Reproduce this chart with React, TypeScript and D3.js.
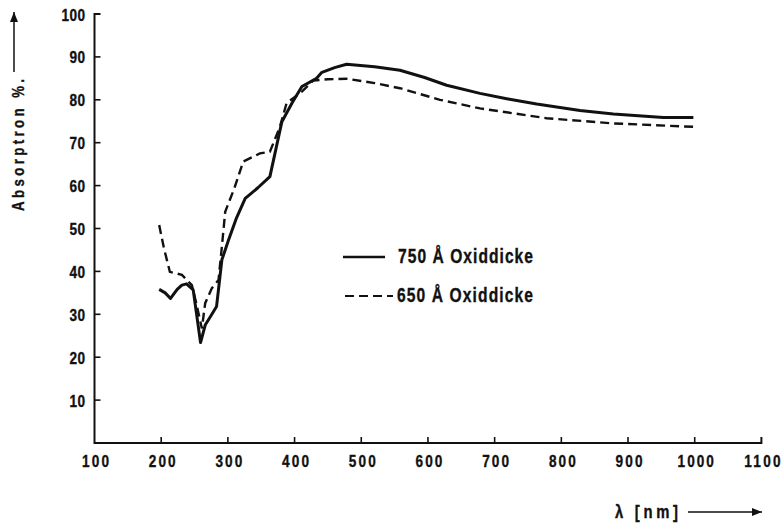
import React from "react";
import * as d3 from "d3";

// Wavelength (nm) and absorption (%) for the two oxide thicknesses
const lambda750 = [197, 206, 214, 224, 231, 238, 248, 259, 266, 276, 283, 291, 301, 313, 326, 345, 363, 372, 381, 396, 411, 433, 441, 460, 478, 520, 558, 595, 628, 678, 720, 763, 828, 878, 953, 998];
const abs750 = [35.8, 35.0, 33.7, 35.8, 36.8, 37.1, 35.7, 23.4, 27.5, 30.0, 31.8, 42.7, 47.3, 52.5, 57.0, 59.5, 62.1, 68.5, 74.9, 79.2, 83.1, 85.0, 86.4, 87.5, 88.3, 87.7, 86.9, 85.2, 83.4, 81.5, 80.2, 79.0, 77.5, 76.7, 75.9, 75.9];

const lambda650 = [197, 204, 213, 231, 246, 252, 261, 266, 276, 286, 291, 296, 310, 323, 348, 363, 378, 388, 411, 428, 450, 478, 520, 558, 618, 678, 778, 878, 998];
const abs650 = [50.8, 45.5, 39.9, 39.2, 36.8, 33.0, 26.7, 32.6, 36.1, 38.0, 45.8, 53.9, 59.5, 65.6, 67.5, 67.9, 73.7, 79.2, 81.9, 84.5, 84.8, 84.9, 83.9, 82.7, 80.0, 78.0, 75.7, 74.5, 73.7];

const xTickValues = [100, 200, 300, 400, 500, 600, 700, 800, 900, 1000, 1100];
const yTickValues = [10, 20, 30, 40, 50, 60, 70, 80, 90, 100];

const legendLabels = ["750 Å Oxiddicke", "650 Å Oxiddicke"];

const FONT = "'Liberation Sans', Arial, sans-serif";
const SQUEEZE = 0.8;

type CondProps = {
  x: number;
  y: number;
  width: number;
  size: number;
  anchor?: "start" | "middle" | "end";
  rotate?: number;
  children: string;
};

// Narrow, widely spaced lettering: glyphs squeezed horizontally, gaps stretched to a set width
function CondText({ x, y, width, size, anchor = "start", rotate = 0, children }: CondProps) {
  const w = width / SQUEEZE;
  const shift = anchor === "middle" ? -w / 2 : anchor === "end" ? -w : 0;
  return (
    <g transform={`translate(${x},${y}) rotate(${rotate}) scale(${SQUEEZE},1)`}>
      <text
        x={shift}
        y={0}
        fontSize={size}
        fontFamily={FONT}
        fontWeight={700}
        fill="#111"
        stroke="#111"
        strokeWidth={0.35}
        textLength={w}
        lengthAdjust="spacing"
      >
        {children}
      </text>
    </g>
  );
}

export default function App() {
  const x = d3.scaleLinear().domain([100, 1100]).range([94.5, 761.4]);
  const y = d3.scaleLinear().domain([0, 100]).range([443, 14]);

  const line = d3
    .line<[number, number]>()
    .x((d) => x(d[0]))
    .y((d) => y(d[1]))
    .curve(d3.curveLinear);

  const solid = line(lambda750.map((l, i) => [l, abs750[i]] as [number, number])) || "";
  const dashed = line(lambda650.map((l, i) => [l, abs650[i]] as [number, number])) || "";

  return (
    <svg
      width={784}
      height={524}
      viewBox="0 0 784 524"
      style={{ position: "absolute", left: 0, top: 0, background: "#fff" }}
    >
      <rect width={784} height={524} fill="#fff" />
      <defs>
        <marker id="arrowHead" viewBox="0 0 10 10" refX="10" refY="5" markerWidth="13" markerHeight="10" markerUnits="userSpaceOnUse" orient="auto">
          <path d="M0,1 L10,5 L0,9 z" fill="#111" />
        </marker>
      </defs>

      {/* axes */}
      <path
        d={`M${x(100) + 6},${y(100)} H${x(100)} V${y(0)} H${x(1100)} V${y(0) - 6}`}
        fill="none"
        stroke="#111"
        strokeWidth={2}
      />
      {xTickValues.slice(1, -1).map((t) => (
        <line key={`xt${t}`} x1={x(t)} x2={x(t)} y1={y(0)} y2={y(0) - 6} stroke="#111" strokeWidth={1.6} />
      ))}
      {yTickValues.slice(0, -1).map((t) => (
        <line key={`yt${t}`} x1={x(100)} x2={x(100) + 6} y1={y(t)} y2={y(t)} stroke="#111" strokeWidth={1.6} />
      ))}

      {/* tick labels */}
      {xTickValues.map((t) => (
        <CondText key={`xl${t}`} x={x(t) + 1} y={467} width={String(t).length * 9.3 - 1} size={17} anchor="middle">
          {String(t)}
        </CondText>
      ))}
      {yTickValues.map((t) => (
        <CondText key={`yl${t}`} x={85} y={y(t) + 6.5} width={String(t).length * 8.2 - 1} size={17} anchor="end">
          {String(t)}
        </CondText>
      ))}

      {/* curves */}
      <path d={solid} fill="none" stroke="#111" strokeWidth={3} strokeLinejoin="round" />
      <path d={dashed} fill="none" stroke="#111" strokeWidth={2.4} strokeDasharray="9 5" />

      {/* legend */}
      <line x1={343} x2={385} y1={257} y2={257} stroke="#111" strokeWidth={2.4} />
      <CondText x={398} y={263} width={135} size={19.5}>
        {legendLabels[0]}
      </CondText>
      <line x1={345} x2={393} y1={296} y2={296} stroke="#111" strokeWidth={2.2} strokeDasharray="9 5" />
      <CondText x={397} y={302} width={136} size={19.5}>
        {legendLabels[1]}
      </CondText>

      {/* y axis title */}
      <CondText x={24} y={211} width={132} size={16.5} rotate={-90}>
        Absorptron %.
      </CondText>
      <line x1={14} x2={14} y1={72} y2={12} stroke="#111" strokeWidth={1.5} markerEnd="url(#arrowHead)" />

      {/* x axis title */}
      <CondText x={615} y={518} width={63} size={18.5}>
        λ [nm]
      </CondText>
      <line x1={688} x2={762} y1={512} y2={512} stroke="#111" strokeWidth={1.5} markerEnd="url(#arrowHead)" />
    </svg>
  );
}
